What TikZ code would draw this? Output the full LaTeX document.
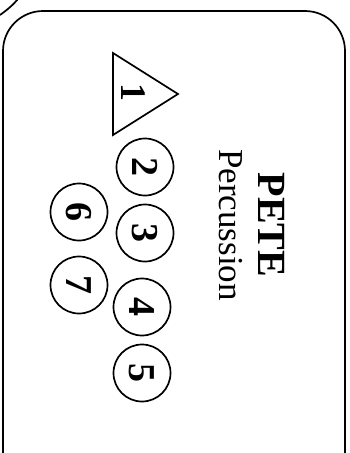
\documentclass[tikz,border=0pt]{standalone}
\usepackage{fontspec}
\setmainfont{Liberation Serif}
\usetikzlibrary{shapes.geometric}
\begin{document}
\begin{tikzpicture}[x=1pt,y=-1pt,
  outline/.style={draw=black,line width=1.7pt},
  drum/.style={outline,circle,minimum size=57pt,inner sep=0pt,font=\fontsize{38}{38}\selectfont\bfseries},
  numtxt/.style={rotate=-90,font=\fontsize{36}{36}\selectfont\bfseries}]
\useasboundingbox (0,0) rectangle (350,453);
\begin{scope}
\clip (0,0) rectangle (350,453);
\draw[outline,rounded corners=40pt] (3,466) -- (3,11) -- (345,11) -- (345,466);
\draw[outline] (0,15) .. controls (7,10) and (13,5) .. (18,-1);
\end{scope}
% triangle
\coordinate (t1) at (113,53);
\coordinate (t2) at (178,94);
\coordinate (t3) at (113,135);
\draw[outline,line join=miter] (t1) -- (t2) -- (t3) -- cycle;
\node[numtxt] (n1) at (133,92) {1};
\node[drum] (c2) at (145,167) {\rotatebox{-90}{2}};
\node[drum] (c3) at (145,233) {\rotatebox{-90}{3}};
\node[drum] (c4) at (142,307) {\rotatebox{-90}{4}};
\node[drum] (c5) at (142,373) {\rotatebox{-90}{5}};
\node[drum] (c6) at (79,212) {\rotatebox{-90}{6}};
\node[drum] (c7) at (79,285) {\rotatebox{-90}{7}};
\node[rotate=-90,font=\fontsize{40}{40}\selectfont\bfseries] (pete) at (272,225) {PETE};
\node[rotate=-90,font=\fontsize{35}{35}\selectfont] (perc) at (231,225) {Percussion};
\end{tikzpicture}
\end{document}
